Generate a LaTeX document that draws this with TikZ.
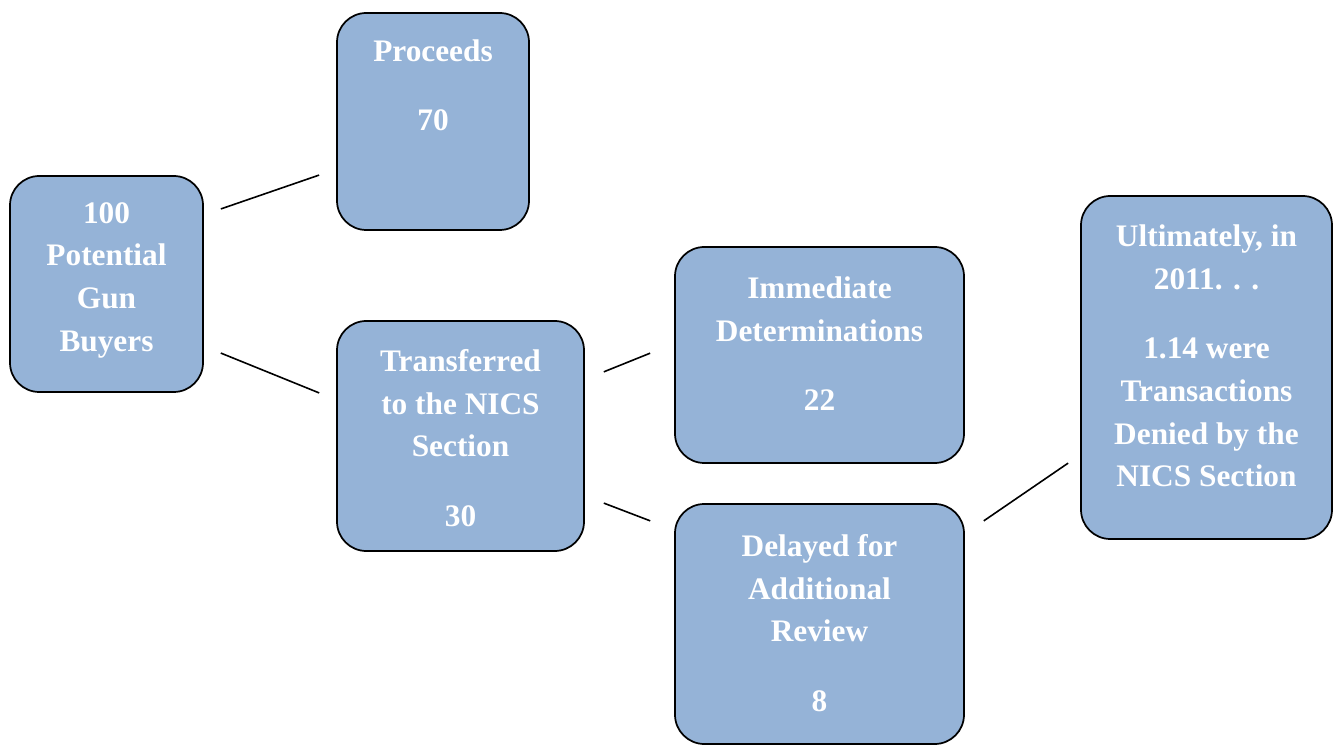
\documentclass[tikz,border=0pt]{standalone}
\usepackage{fontspec}
\setmainfont{Liberation Serif}
\usepackage{tikz}
\usetikzlibrary{positioning}

\definecolor{boxblue}{HTML}{95B3D7}

\begin{document}
\begin{tikzpicture}
  [
    x=0.75pt, y=-0.75pt,
    Stage/.style={rectangle, rounded corners=22pt, draw=black, fill=boxblue, line width=1.3pt, inner sep=0pt},
    StageText/.style={text=white, font=\fontsize{23.5}{32}\selectfont\bfseries, align=center, inner sep=0pt},
    Link/.style={draw, line width=1.2pt}
  ]
  \useasboundingbox (0,0) rectangle (1340,745);

  % Boxes (x, y)
  \node[Stage, minimum width=144.75pt, minimum height=162pt] (buyers) at(106.5, 284) {};
  \node[Stage, minimum width=144pt, minimum height=162.75pt] (proceeds) at(433, 121.5) {};
  \node[Stage, minimum width=185.25pt, minimum height=172.5pt] (transfer) at(460.5, 436) {};
  \node[Stage, minimum width=216.75pt, minimum height=162pt] (immediate) at(819.5, 355) {};
  \node[Stage, minimum width=216.75pt, minimum height=180pt] (delayed) at(819.5, 624) {};
  \node[Stage, minimum width=188.25pt, minimum height=257.25pt] (denied) at(1206.5, 367.5) {};

  % Texts
  \node[StageText] (buyers-txt) at(106.5, 280) {100\\Potential\\Gun\\Buyers};
  \node[StageText] (proceeds-txt) at(433, 85) {Proceeds\\[20pt]70};
  \node[StageText] (transfer-txt) at(460.5, 438) {Transferred\\to the NICS\\Section\\[20pt]30};
  \node[StageText] (immediate-txt) at(819.5, 343.5) {Immediate\\Determinations\\[20pt]22};
  \node[StageText] (delayed-txt) at(819.5, 623) {Delayed for\\Additional\\Review\\[20pt]8};
  \node[StageText] (denied-txt) at(1206.5, 356) {Ultimately, in\\2011. . .\\[20pt]1.14 were\\Transactions\\Denied by the\\NICS Section};

  % Lines
  % buyers -> proceeds
  \path [Link, shorten <=13.5pt, shorten >=13.5pt] ([yshift=51.9pt]buyers.east) -- ([yshift=-35.8pt]proceeds.west);
  % buyers -> transfer
  \path [Link, shorten <=13.7pt, shorten >=13.7pt] ([yshift=-46.65pt]buyers.east) -- ([yshift=27.15pt]transfer.west);
  % transfer -> immediate
  \path [Link, shorten <=15.3pt, shorten >=19.4pt] ([yshift=42.4pt]transfer.east) -- ([yshift=8.6pt]immediate.west);
  % transfer -> delayed
  \path [Link, shorten <=15.2pt, shorten >=19.2pt] ([yshift=-44.9pt]transfer.east) -- ([yshift=70.5pt]delayed.west);
  % delayed -> denied
  \path [Link, shorten <=17.2pt, shorten >=10.9pt] ([yshift=67.65pt]delayed.east) -- ([yshift=-65.55pt]denied.west);

\end{tikzpicture}
\end{document}
